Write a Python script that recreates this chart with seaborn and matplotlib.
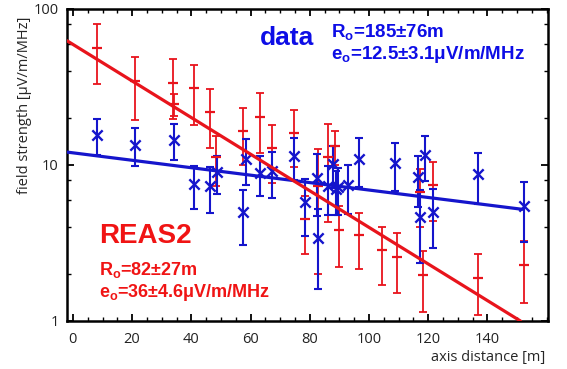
import matplotlib
matplotlib.use("Agg")
import matplotlib.pyplot as plt
import seaborn as sns
from matplotlib.ticker import FixedLocator, MultipleLocator, NullFormatter

# ---------------- data ----------------
red_x = [8.0, 21.0, 33.7, 34.2, 41.0, 46.4, 48.4, 57.4, 63.1, 67.4, 74.7, 78.3,
         82.8, 86.2, 88.5, 89.9, 96.7, 104.3, 109.4, 117.3, 118.4, 121.8, 136.8, 152.3]
red_y = [56.5, 34.5, 33.7, 24.6, 31.0, 21.8, 11.3, 16.6, 20.4, 12.9, 16.1, 4.5,
         7.3, 11.3, 13.2, 3.83, 3.56, 2.85, 2.58, 6.7, 1.97, 7.4, 1.89, 2.28]
red_err = [23.5, 15.0, 14.0, 4.0, 13.0, 9.0, 4.0, 6.6, 8.5, 5.2, 6.4, 1.8,
           5.3, 7.0, 3.2, 1.6, 1.4, 1.15, 1.07, 2.7, 0.82, 3.0, 0.79, 0.97]

blue_x = [8.0, 21.0, 34.0, 41.0, 46.4, 48.6, 57.4, 58.5, 63.1, 67.4, 74.7, 78.3,
          82.8, 82.5, 86.2, 88.0, 88.8, 89.5, 93.1, 96.8, 108.8, 116.5, 117.3,
          118.8, 121.8, 137.0, 152.3]
blue_y = [15.6, 13.5, 14.5, 7.55, 7.3, 9.0, 5.0, 11.0, 8.9, 9.15, 11.4, 5.8,
          3.4, 8.2, 7.3, 10.2, 7.0, 7.2, 7.45, 11.0, 10.3, 8.4, 4.66,
          11.6, 5.0, 8.8, 5.5]
blue_err = [4.0, 3.7, 3.8, 2.3, 2.4, 2.5, 1.95, 3.6, 2.6, 3.0, 3.4, 2.3,
            1.8, 3.5, 2.5, 3.1, 2.2, 2.4, 2.6, 3.8, 3.5, 3.0, 2.3,
            3.7, 2.05, 3.2, 2.3]

# fitted exponential lines (straight in log-y)
red_fit_x = [-2.0, 151.2]
red_fit_y = [62.6, 1.0]
blue_fit_x = [-2.0, 151.8]
blue_fit_y = [12.1, 5.2]

x_ticks = [0, 20, 40, 60, 80, 100, 120, 140]
y_ticks = [1, 10, 100]
y_tick_labels = ["1", "10", "100"]
y_minor = [2, 4, 6, 8, 20, 40, 60, 80]

RED = "#e8141c"
BLUE = "#1515cc"
RED_TXT = "#f01414"
BLUE_TXT = "#0d0de6"

# ---------------- style ----------------
sns.set_style("ticks")
plt.rcParams["font.family"] = ["Open Sans", "DejaVu Sans"]
plt.rcParams["mathtext.fontset"] = "custom"
plt.rcParams["mathtext.bf"] = "Liberation Sans:bold"
plt.rcParams["mathtext.rm"] = "Liberation Sans:bold"

W, H = 567, 369
fig = plt.figure(figsize=(W / 100, H / 100), dpi=100)
ax = fig.add_axes([67 / W, 48 / H, 481 / W, 312 / H])

# error bars
ax.errorbar(red_x, red_y, yerr=red_err, fmt="none", ecolor=RED,
            elinewidth=1.3, capsize=3.2, capthick=1.3, zorder=2)
ax.errorbar(blue_x, blue_y, yerr=blue_err, fmt="none", ecolor=BLUE,
            elinewidth=1.5, capsize=3.2, capthick=1.5, zorder=3)

# markers
sns.scatterplot(x=red_x, y=red_y, marker="_", s=60, color=RED,
                linewidth=1.6, ax=ax, zorder=4, legend=False)
sns.scatterplot(x=blue_x, y=blue_y, marker="x", s=55, color=BLUE,
                linewidth=1.7, ax=ax, zorder=5, legend=False)

# fit lines
sns.lineplot(x=blue_fit_x, y=blue_fit_y, color=BLUE, linewidth=2.3,
             ax=ax, zorder=6, legend=False)
sns.lineplot(x=red_fit_x, y=red_fit_y, color=RED, linewidth=2.3,
             ax=ax, zorder=7, legend=False)

ax.set_yscale("log")
ax.set_xlim(-2.0, 160.5)
ax.set_ylim(1, 100)

ax.set_xticks(x_ticks)
ax.set_xticklabels([str(t) for t in x_ticks])
ax.xaxis.set_minor_locator(MultipleLocator(5))
ax.set_yticks(y_ticks)
ax.set_yticklabels(y_tick_labels)
ax.yaxis.set_minor_locator(FixedLocator(y_minor))
ax.yaxis.set_minor_formatter(NullFormatter())

ax.tick_params(which="both", direction="in", top=True, right=True,
               colors="black", labelcolor="#222222")
ax.tick_params(which="major", length=5, width=1.3, labelsize=10.5)
ax.tick_params(axis="x", which="major", pad=8)
ax.tick_params(axis="y", which="major", pad=6)
ax.tick_params(which="minor", length=3, width=1.0)

for s in ax.spines.values():
    s.set_linewidth(1.8)
    s.set_color("black")

ax.set_xlabel("axis distance [m]", fontsize=10.5, ha="right", va="center")
ax.xaxis.set_label_coords((545 - 67) / 481, -(357 - 321) / 312)
ax.set_ylabel("field strength [μV/m/MHz]", fontsize=10.5, ha="center", va="center")
ax.yaxis.set_label_coords((24.5 - 67) / 481, (321 - 105.5) / 312)


def fx(x):
    return x / W


def fy(y):
    return 1 - y / H


fig.text(fx(260), fy(45), "data", color=BLUE_TXT, fontsize=19,
         fontweight="bold", family="Liberation Sans", va="baseline")
fig.text(fx(331), fy(37), r"$\mathbf{R_o}$=185±76m", color=BLUE_TXT,
         fontsize=13.5, fontweight="bold", family="Liberation Sans", va="baseline")
fig.text(fx(331), fy(59), r"$\mathbf{e_o}$=12.5±3.1μV/m/MHz", color=BLUE_TXT,
         fontsize=13.5, fontweight="bold", family="Liberation Sans", va="baseline")

fig.text(fx(99), fy(243), "REAS2", color=RED_TXT, fontsize=20,
         fontweight="bold", family="Liberation Sans", va="baseline")
fig.text(fx(99), fy(275), r"$\mathbf{R_o}$=82±27m", color=RED_TXT,
         fontsize=13, fontweight="bold", family="Liberation Sans", va="baseline")
fig.text(fx(99), fy(297), r"$\mathbf{e_o}$=36±4.6μV/m/MHz", color=RED_TXT,
         fontsize=13, fontweight="bold", family="Liberation Sans", va="baseline")

fig.savefig("out.png", dpi=100)
